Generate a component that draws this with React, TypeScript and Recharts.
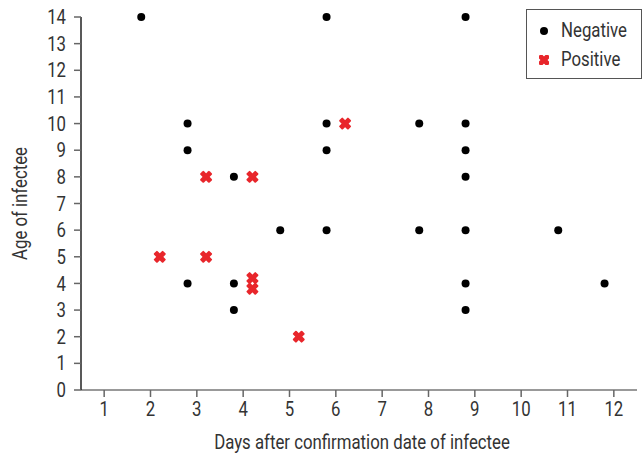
import { ScatterChart, Scatter, XAxis, YAxis, Legend, Label } from 'recharts';

// Negative infectees (offset -0.2 on day axis)
const negativeDays = [1.8, 2.8, 2.8, 2.8, 3.8, 3.8, 3.8, 4.8, 5.8, 5.8, 5.8, 5.8, 7.8, 7.8, 8.8, 8.8, 8.8, 8.8, 8.8, 8.8, 8.8, 10.8, 11.8];
const negativeAges = [14, 10, 9, 4, 8, 4, 3, 6, 14, 10, 9, 6, 10, 6, 14, 10, 9, 8, 6, 4, 3, 6, 4];

// Positive infectees (offset +0.2 on day axis)
const positiveDays = [2.2, 3.2, 3.2, 4.2, 4.2, 4.2, 5.2, 6.2];
const positiveAges = [5, 8, 5, 8, 4.2, 3.8, 2, 10];

const dayTicks = [1, 2, 3, 4, 5, 6, 7, 8, 9, 10, 11, 12];
const ageTicks = [0, 1, 2, 3, 4, 5, 6, 7, 8, 9, 10, 11, 12, 13, 14];

const negativeData = negativeDays.map((d, i) => ({ day: d, age: negativeAges[i] }));
const positiveData = positiveDays.map((d, i) => ({ day: d, age: positiveAges[i] }));

const FONT = 'Roboto, "Noto Sans", sans-serif';
const SQUEEZE = 0.84; // fake a condensed face
const TEXT = '#333';
const RED = '#e8262b';

const Dot = (props: any) => <circle cx={props.cx} cy={props.cy} r={4} fill="#000" />;

const XMark = ({ cx, cy }: any) => (
  <g transform={`translate(${cx},${cy}) rotate(45)`} fill={RED}>
    <rect x={-6.5} y={-2.5} width={13} height={5} rx={1} />
    <rect x={-2.5} y={-6.5} width={5} height={13} rx={1} />
  </g>
);

const XTick = ({ x, y, payload }: any) => (
  <g transform={`translate(${x},${y}) scale(${SQUEEZE},1)`}>
    <text x={0} y={0} dy="0.71em" textAnchor="middle" fill={TEXT} fontSize={20} fontFamily={FONT}>
      {payload.value}
    </text>
  </g>
);

const YTick = ({ x, y, payload }: any) => (
  <g transform={`translate(${x},${y}) scale(${SQUEEZE},1)`}>
    <text x={0} y={0} dy="0.355em" textAnchor="end" fill={TEXT} fontSize={20} fontFamily={FONT}>
      {payload.value}
    </text>
  </g>
);

const XTitle = ({ viewBox }: any) => (
  <g transform={`translate(${viewBox.x + viewBox.width / 2 + 3},${viewBox.y + viewBox.height - 1}) scale(${SQUEEZE},1)`}>
    <text textAnchor="middle" fill={TEXT} fontSize={20} fontFamily={FONT}>
      Days after confirmation date of infectee
    </text>
  </g>
);

const YTitle = ({ viewBox }: any) => (
  <g transform={`translate(20,${viewBox.y + viewBox.height / 2}) rotate(-90) scale(${SQUEEZE},1)`}>
    <text textAnchor="middle" dy="0.355em" fill={TEXT} fontSize={20} fontFamily={FONT}>
      Age of infectee
    </text>
  </g>
);

const squeezed = {
  display: 'inline-block',
  transform: `scaleX(${SQUEEZE})`,
  transformOrigin: 'left center',
};

const renderLegend = () => (
  <div
    style={{
      border: '1px solid #555',
      background: '#fff',
      padding: '6px 0 4px 12px',
      fontFamily: FONT,
      fontSize: 20,
      color: TEXT,
      lineHeight: '29px',
      boxSizing: 'border-box',
      height: 70,
    }}
  >
    <div style={{ display: 'flex', alignItems: 'center' }}>
      <svg width={10} height={10} style={{ marginRight: 12 }}>
        <circle cx={5} cy={5} r={4} fill="#000" />
      </svg>
      <span style={squeezed}>Negative</span>
    </div>
    <div style={{ display: 'flex', alignItems: 'center' }}>
      <svg width={10} height={10} style={{ marginRight: 12 }}>
        <XMark cx={5} cy={5} />
      </svg>
      <span style={squeezed}>Positive</span>
    </div>
  </div>
);

export default function App() {
  return (
    <div style={{ position: 'absolute', left: 0, top: 0, background: '#fff' }}>
      <ScatterChart width={642} height={456} margin={{ top: 17, right: 5, bottom: 6, left: 0 }}>
        <XAxis
          type="number"
          dataKey="day"
          domain={[0.5, 12.5]}
          ticks={dayTicks}
          height={60}
          tickSize={7}
          tickMargin={5}
          tick={<XTick />}
          axisLine={{ stroke: '#777', strokeWidth: 1.5 }}
          tickLine={{ stroke: '#666', strokeWidth: 1.5 }}
        >
          <Label content={<XTitle />} />
        </XAxis>
        <YAxis
          type="number"
          dataKey="age"
          domain={[0, 14]}
          ticks={ageTicks}
          width={81}
          tickSize={7}
          tickMargin={8}
          interval={0}
          tick={<YTick />}
          axisLine={{ stroke: '#222', strokeWidth: 1.5 }}
          tickLine={{ stroke: '#666', strokeWidth: 1.5 }}
        >
          <Label content={<YTitle />} />
        </YAxis>
        <Legend
          layout="horizontal"
          align="center"
          verticalAlign="middle"
          content={renderLegend}
          wrapperStyle={{ left: 526, top: 9, width: 116, height: 70 }}
        />
        <Scatter name="Negative" data={negativeData} shape={Dot} isAnimationActive={false} />
        <Scatter name="Positive" data={positiveData} shape={XMark} isAnimationActive={false} />
      </ScatterChart>
    </div>
  );
}
